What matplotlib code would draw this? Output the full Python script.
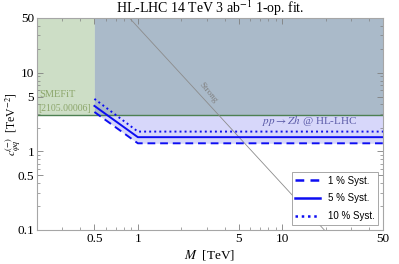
import numpy as np
import matplotlib
matplotlib.use("Agg")
import matplotlib.pyplot as plt
from matplotlib.lines import Line2D
from matplotlib.ticker import FixedLocator, FixedFormatter, LogLocator, NullFormatter

plt.rcParams['font.family'] = ['Liberation Serif', 'DejaVu Serif']
plt.rcParams['mathtext.fontset'] = 'stix'

# data
M = np.array([0.5, 1.0, 50.0])
syst_1 = np.array([3.18, 1.27, 1.27])
syst_5 = np.array([3.80, 1.52, 1.52])
syst_10 = np.array([4.67, 1.79, 1.79])
smefit_bound = 2.9
smefit_M = [0.2, 50.0]
strong_M = [0.875, 19.6]
strong_c = [50.0, 0.1]
xticks = [0.5, 1, 5, 10, 50]
xticklabels = ["0.5", "1", "5", "10", "50"]
yticks = [0.1, 0.5, 1, 5, 10, 50]
yticklabels = ["0.1", "0.5", "1", "5", "10", "50"]

green = (205/255, 222/255, 198/255)
dark = (170/255, 186/255, 201/255)
lav = (215/255, 215/255, 250/255)
blue = (0.05, 0.05, 0.95)

fig = plt.figure(figsize=(3.99, 2.64), dpi=100)
ax = fig.add_axes([37/399, 1-230/264, (383-37)/399, (230-18)/264])
ax.set_xscale('log')
ax.set_yscale('log')
ax.set_xlim(0.2, 50)
ax.set_ylim(0.1, 50)

# regions
ax.fill_between(smefit_M, smefit_bound, 50, color=green, lw=0)
Mf = np.geomspace(M[0], M[-1], 400)
d = np.exp(np.interp(np.log(Mf), np.log(M), np.log(syst_1)))
ax.fill_between(Mf, d, 50, color=lav, lw=0)
ax.fill_between(Mf, np.maximum(d, smefit_bound), 50, color=dark, lw=0)
ax.plot(smefit_M, [smefit_bound]*2, color=(0.30, 0.50, 0.32), lw=1.0)

# strong line
ax.plot(strong_M, strong_c, color=(0.55, 0.55, 0.55), lw=0.6)
ax.text(3.05, 5.6, "Strong", color=(0.5, 0.5, 0.5), fontsize=6.5, rotation=-50,
        ha='center', va='center')

# lines
ax.plot(M, syst_1, color=blue, lw=1.4, ls=(0, (4, 2.5)))
ax.plot(M, syst_5, color=blue, lw=1.4, ls='-')
ax.plot(M, syst_10, color=blue, lw=1.4, ls=(0, (1, 1.6)))

# texts
ax.text(0.206, 5.3, "SMEFiT", color=(0.55, 0.65, 0.42), fontsize=7.5, ha='left', va='center')
ax.text(0.204, 3.55, "[2105.00006]", color=(0.55, 0.65, 0.42), fontsize=7, ha='left', va='center')
ax.text(7.3, 2.45, r"$pp \rightarrow Zh$ @ HL-LHC", color=(0.35, 0.35, 0.65), fontsize=8,
        ha='left', va='center')

# ticks
ax.xaxis.set_major_locator(FixedLocator(xticks))
ax.xaxis.set_major_formatter(FixedFormatter(xticklabels))
ax.yaxis.set_major_locator(FixedLocator(yticks))
ax.yaxis.set_major_formatter(FixedFormatter(yticklabels))
ax.xaxis.set_minor_locator(LogLocator(base=10, subs=np.arange(2, 10)))
ax.yaxis.set_minor_locator(LogLocator(base=10, subs=np.arange(2, 10)))
ax.xaxis.set_minor_formatter(NullFormatter())
ax.yaxis.set_minor_formatter(NullFormatter())
ax.tick_params(which='both', direction='in', top=True, right=True, color=(0.5, 0.5, 0.5),
               labelsize=9.5, pad=2)
ax.tick_params(which='major', length=4, width=0.6)
ax.tick_params(which='minor', length=2, width=0.5)
for s in ax.spines.values():
    s.set_color((0.65, 0.65, 0.65))
    s.set_linewidth(0.8)

ax.set_title(r"HL-LHC 14 TeV 3 ab$^{-1}$ 1-op. fit.", fontsize=10, pad=3)
ax.set_xlabel(r"$M$  [TeV]", fontsize=9.5, labelpad=2)
ax.set_ylabel(r"$c_{\varphi q}^{(-)}$  [TeV$^{-2}$]", fontsize=8.5)
ax.yaxis.set_label_coords(-0.04, 0.5)

handles = [Line2D([], [], color=blue, lw=1.8, ls=(0, (3.5, 2.5))),
           Line2D([], [], color=blue, lw=1.8, ls='-'),
           Line2D([], [], color=blue, lw=1.8, ls=(0, (1, 1.5)))]
leg = ax.legend(handles, ["1 % Syst.", "5 % Syst.", "10 % Syst."], loc='lower right',
                prop={'family': 'Liberation Sans', 'size': 7}, frameon=True, fancybox=False,
                edgecolor=(0.6, 0.6, 0.6), framealpha=1, handlelength=2.5,
                borderaxespad=0.5, labelspacing=0.8)
leg.get_frame().set_linewidth(0.6)

fig.savefig("out.png", dpi=100)
